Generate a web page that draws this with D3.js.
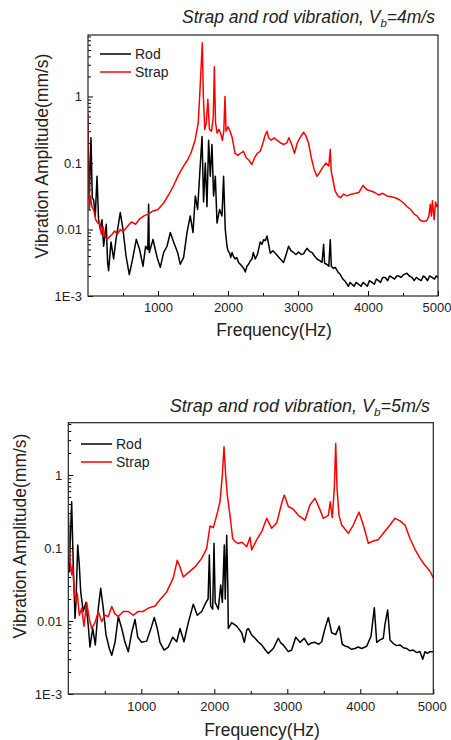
<!DOCTYPE html>
<html>
<head>
<meta charset="utf-8">
<script src="https://d3js.org/d3.v7.min.js"></script>
<style>
  body { margin: 0; background: #fff; }
  svg { display: block; font-family: "Liberation Sans", Arial, sans-serif; }
</style>
</head>
<body>
<div id="visual"></div>
<script>
// spectra: [frequency Hz, amplitude mm/s]
var rod4 = [[0,0.25],[19,0.03],[43,0.24],[61,0.03],[80,0.028],[104,0.016],[129,0.063],[151,0.014],[176,0.01],[200,0.014],[223,0.0056],[247,0.009],[261,0.012],[280,0.0032],[294,0.0024],[329,0.0065],[366,0.0036],[400,0.0071],[437,0.0125],[461,0.018],[500,0.01],[543,0.004],[590,0.0021],[637,0.0036],[690,0.0071],[737,0.005],[786,0.0028],[823,0.0056],[854,0.005],[866,0.024],[876,0.0045],[929,0.0071],[961,0.005],[994,0.0036],[1033,0.0027],[1080,0.0045],[1129,0.0056],[1176,0.009],[1223,0.0065],[1280,0.0045],[1319,0.003],[1366,0.0038],[1414,0.009],[1461,0.016],[1500,0.009],[1533,0.032],[1566,0.02],[1594,0.063],[1629,0.25],[1651,0.026],[1676,0.1],[1700,0.022],[1723,0.22],[1747,0.063],[1771,0.19],[1794,0.032],[1819,0.063],[1843,0.0125],[1880,0.02],[1914,0.016],[1937,0.063],[1961,0.01],[1986,0.0056],[2000,0.0048],[2023,0.0044],[2040,0.0038],[2057,0.0045],[2080,0.0039],[2104,0.0036],[2125,0.0038],[2151,0.0032],[2175,0.003],[2200,0.0028],[2225,0.0026],[2247,0.0023],[2270,0.0028],[2294,0.003],[2320,0.0034],[2343,0.0036],[2361,0.0045],[2390,0.0036],[2420,0.0042],[2461,0.0065],[2485,0.006],[2509,0.007],[2535,0.0068],[2557,0.008],[2580,0.006],[2604,0.0044],[2640,0.0048],[2676,0.0044],[2710,0.004],[2747,0.0036],[2770,0.0034],[2794,0.0032],[2830,0.0042],[2866,0.0056],[2900,0.0048],[2937,0.0045],[2970,0.0042],[3009,0.0046],[3045,0.0042],[3080,0.0043],[3105,0.0048],[3129,0.0052],[3165,0.0047],[3200,0.0045],[3235,0.004],[3271,0.0036],[3310,0.0034],[3343,0.0032],[3366,0.006],[3380,0.0031],[3410,0.003],[3440,0.0028],[3461,0.007],[3476,0.0028],[3505,0.0026],[3533,0.0027],[3570,0.0023],[3604,0.0021],[3640,0.0018],[3676,0.00165],[3720,0.0014],[3745,0.0016],[3771,0.0015],[3800,0.0014],[3830,0.0016],[3866,0.0015],[3900,0.0014],[3930,0.0016],[3961,0.0015],[3990,0.0014],[4020,0.0017],[4057,0.0016],[4090,0.0015],[4120,0.0018],[4151,0.0017],[4180,0.0016],[4210,0.0019],[4247,0.0019],[4280,0.0017],[4310,0.002],[4343,0.0019],[4380,0.0018],[4410,0.002],[4437,0.002],[4470,0.0019],[4510,0.0021],[4557,0.0022],[4590,0.002],[4629,0.0019],[4660,0.0017],[4690,0.0019],[4723,0.0018],[4760,0.0017],[4790,0.002],[4819,0.0019],[4850,0.0017],[4880,0.002],[4914,0.0019],[4950,0.0018],[4975,0.002],[5000,0.0019]];

var strap4 = [[0,0.55],[8,0.11],[20,0.02],[35,0.032],[55,0.022],[80,0.02],[110,0.014],[140,0.0125],[165,0.013],[190,0.0085],[215,0.011],[245,0.0078],[275,0.0072],[310,0.0078],[345,0.0085],[380,0.0095],[420,0.0085],[460,0.01],[500,0.0092],[560,0.011],[620,0.013],[680,0.012],[740,0.0145],[800,0.016],[860,0.017],[930,0.019],[1000,0.02],[1080,0.025],[1150,0.033],[1220,0.045],[1290,0.065],[1360,0.088],[1420,0.11],[1470,0.14],[1530,0.22],[1575,0.4],[1605,1.6],[1633,6.4],[1648,1.0],[1668,0.32],[1690,0.4],[1712,0.9],[1735,0.32],[1765,0.3],[1790,0.5],[1805,2.8],[1822,0.4],[1845,0.28],[1870,0.32],[1895,0.28],[1920,0.22],[1940,0.3],[1957,1.0],[1972,0.3],[2000,0.35],[2030,0.3],[2060,0.24],[2100,0.14],[2140,0.13],[2180,0.14],[2220,0.15],[2260,0.12],[2300,0.11],[2340,0.095],[2380,0.12],[2420,0.14],[2460,0.15],[2500,0.2],[2530,0.26],[2557,0.3],[2580,0.24],[2620,0.22],[2660,0.24],[2700,0.22],[2750,0.2],[2800,0.19],[2840,0.2],[2870,0.24],[2910,0.19],[2950,0.14],[2990,0.2],[3040,0.25],[3080,0.29],[3110,0.26],[3150,0.2],[3190,0.12],[3230,0.08],[3270,0.063],[3310,0.072],[3350,0.085],[3400,0.1],[3440,0.09],[3461,0.16],[3475,0.075],[3500,0.055],[3530,0.038],[3570,0.032],[3610,0.03],[3650,0.034],[3700,0.032],[3760,0.034],[3820,0.035],[3870,0.036],[3930,0.046],[3980,0.04],[4040,0.038],[4100,0.036],[4150,0.033],[4210,0.035],[4270,0.032],[4330,0.031],[4390,0.03],[4450,0.028],[4510,0.025],[4560,0.022],[4610,0.02],[4660,0.017],[4700,0.016],[4740,0.014],[4790,0.0132],[4840,0.0135],[4870,0.016],[4890,0.024],[4905,0.016],[4920,0.027],[4945,0.014],[4965,0.026],[4985,0.022],[5000,0.024]];

var rod5 = [[0,0.08],[12,0.047],[46,0.43],[68,0.058],[92,0.0108],[105,0.018],[129,0.11],[151,0.058],[170,0.025],[205,0.0135],[242,0.018],[274,0.0085],[297,0.0044],[334,0.0079],[370,0.0047],[411,0.015],[444,0.028],[479,0.015],[516,0.0065],[562,0.0042],[595,0.0034],[640,0.0051],[685,0.0115],[732,0.0079],[777,0.0051],[822,0.0038],[868,0.0069],[914,0.0105],[951,0.006],[1005,0.0051],[1074,0.0053],[1142,0.0085],[1178,0.0112],[1219,0.0079],[1256,0.0051],[1311,0.004],[1370,0.0044],[1430,0.006],[1485,0.0052],[1530,0.0079],[1585,0.0052],[1644,0.0095],[1712,0.017],[1767,0.012],[1827,0.0135],[1886,0.018],[1915,0.02],[1932,0.08],[1950,0.016],[1978,0.0145],[1996,0.116],[2012,0.018],[2055,0.0145],[2088,0.031],[2110,0.018],[2137,0.11],[2150,0.02],[2170,0.15],[2185,0.03],[2192,0.0079],[2238,0.0095],[2307,0.0085],[2375,0.0069],[2411,0.0051],[2444,0.0075],[2466,0.0079],[2510,0.0065],[2558,0.0058],[2600,0.0052],[2649,0.0047],[2700,0.004],[2740,0.0036],[2808,0.0042],[2877,0.0058],[2910,0.005],[2945,0.0047],[3014,0.0038],[3060,0.004],[3115,0.006],[3174,0.0051],[3233,0.0058],[3288,0.0047],[3330,0.005],[3379,0.0051],[3430,0.0048],[3471,0.0052],[3516,0.0079],[3562,0.0112],[3608,0.0069],[3663,0.0065],[3712,0.0085],[3753,0.0048],[3800,0.0045],[3836,0.0044],[3880,0.0041],[3927,0.0042],[3970,0.0044],[4019,0.0042],[4088,0.0045],[4147,0.0062],[4192,0.0152],[4225,0.0051],[4270,0.0055],[4315,0.0058],[4338,0.009],[4375,0.0142],[4407,0.0055],[4452,0.0049],[4500,0.0046],[4544,0.0047],[4590,0.0043],[4636,0.0042],[4680,0.0039],[4726,0.004],[4770,0.0037],[4818,0.0038],[4855,0.003],[4886,0.0038],[4920,0.0036],[4955,0.0038],[5000,0.0038]];

var strap5 = [[0,0.31],[12,0.15],[23,0.065],[47,0.043],[60,0.058],[78,0.028],[105,0.018],[123,0.024],[151,0.012],[184,0.015],[215,0.0085],[252,0.018],[288,0.0105],[321,0.0079],[366,0.0095],[411,0.0135],[458,0.0098],[503,0.012],[548,0.0115],[595,0.0158],[640,0.0125],[685,0.0115],[753,0.0135],[822,0.0135],[890,0.012],[959,0.0135],[1027,0.0135],[1096,0.015],[1188,0.016],[1256,0.0195],[1348,0.025],[1438,0.039],[1493,0.068],[1530,0.055],[1575,0.04],[1644,0.046],[1736,0.055],[1827,0.072],[1896,0.099],[1941,0.2],[1986,0.19],[2033,0.28],[2078,0.43],[2110,1.0],[2133,2.44],[2156,1.0],[2178,0.53],[2215,0.28],[2252,0.135],[2284,0.122],[2330,0.115],[2375,0.12],[2421,0.11],[2444,0.104],[2489,0.14],[2512,0.094],[2581,0.13],[2649,0.167],[2718,0.255],[2786,0.186],[2855,0.22],[2923,0.41],[2959,0.53],[3014,0.37],[3082,0.34],[3151,0.28],[3242,0.24],[3311,0.39],[3379,0.48],[3434,0.36],[3493,0.255],[3562,0.28],[3589,0.43],[3616,0.26],[3644,0.66],[3663,2.7],[3681,0.66],[3708,0.28],[3745,0.206],[3836,0.159],[3904,0.206],[3982,0.31],[4041,0.206],[4110,0.116],[4178,0.125],[4247,0.13],[4315,0.159],[4407,0.206],[4475,0.255],[4544,0.235],[4612,0.206],[4681,0.135],[4749,0.096],[4818,0.072],[4886,0.058],[4955,0.048],[5000,0.039]];

var freqTicks = [1000, 2000, 3000, 4000, 5000];
var freqMinor = [500, 1500, 2500, 3500, 4500];
var ampTicks = [0.001, 0.01, 0.1, 1];
var ampLabels = ["1E-3", "0.01", "0.1", "1"];
var seriesNames = ["Rod", "Strap"];
var seriesColors = ["#000000", "#ff0000"];

var svg = d3.select("#visual")
  .append("svg")
    .attr("width", 451)
    .attr("height", 740);

function drawPanel(p) {
  var g = svg.append("g")
    .attr("transform", "translate(" + p.left + "," + p.top + ")");

  var x = d3.scaleLinear().domain([0, 5000]).range([0, p.width]);
  var y = d3.scaleLog().domain([0.001, p.ymax]).range([p.height, 0]);

  // minor decade ticks 2..9
  var minors = [];
  [0.001, 0.01, 0.1, 1].forEach(function(d) {
    for (var k = 2; k <= 9; k++) if (d * k <= p.ymax) minors.push(d * k);
  });

  g.append("g")
    .call(d3.axisLeft(y).tickValues(minors).tickSize(-3).tickSizeOuter(0).tickFormat(""))
    .call(function(a) { a.select(".domain").remove(); });

  g.append("g")
    .call(d3.axisLeft(y).tickValues(ampTicks).tickSize(-5).tickSizeOuter(0).tickPadding(6)
      .tickFormat(function(d, i) { return ampLabels[i]; }))
    .call(function(a) {
      a.select(".domain").remove();
      a.selectAll("text").attr("font-size", 13).attr("fill", "#222").attr("font-family", null);
    });

  g.append("g")
    .attr("transform", "translate(0," + p.height + ")")
    .call(d3.axisBottom(x).tickValues(freqMinor).tickSize(-3).tickSizeOuter(0).tickFormat(""))
    .call(function(a) { a.select(".domain").remove(); });

  g.append("g")
    .attr("transform", "translate(0," + p.height + ")")
    .call(d3.axisBottom(x).tickValues(freqTicks).tickSize(-5).tickSizeOuter(0).tickPadding(p.xpad)
      .tickFormat(d3.format("d")))
    .call(function(a) {
      a.select(".domain").remove();
      a.selectAll("text").attr("font-size", 13).attr("fill", "#222").attr("font-family", null);
      // last label sits at the page edge, pull it in a touch
      a.selectAll("text").filter(function(d) { return d === 5000; }).attr("dx", -1.5);
    });

  // clip so nothing runs outside the box
  g.append("clipPath").attr("id", "clip" + p.id)
    .append("rect").attr("width", p.width).attr("height", p.height);

  var line = d3.line()
    .x(function(d) { return x(d[0]); })
    .y(function(d) { return y(d[1]); });

  var plot = g.append("g").attr("clip-path", "url(#clip" + p.id + ")");
  [p.rod, p.strap].forEach(function(s, i) {
    plot.append("path")
      .datum(s)
      .attr("fill", "none")
      .attr("stroke", seriesColors[i])
      .attr("stroke-width", 1.5)
      .attr("stroke-linejoin", "round")
      .attr("d", line);
  });

  // frame
  g.append("rect")
    .attr("width", p.width)
    .attr("height", p.height)
    .attr("fill", "none")
    .attr("stroke", "#222")
    .attr("stroke-width", 1.2);

  // legend
  seriesNames.forEach(function(name, i) {
    var ly = p.legY + i * 18;
    g.append("line")
      .attr("x1", p.legX).attr("x2", p.legX + 31)
      .attr("y1", ly).attr("y2", ly)
      .attr("stroke", seriesColors[i]).attr("stroke-width", 1.5);
    g.append("text")
      .attr("x", p.legX + 35).attr("y", ly + 5)
      .attr("font-size", 14).attr("fill", "#222")
      .text(name);
  });

  // axis titles
  svg.append("text")
    .attr("x", p.xTitleX).attr("y", p.xTitleY)
    .attr("text-anchor", "middle")
    .attr("font-size", p.titleSize).attr("fill", "#222")
    .text("Frequency(Hz)");

  svg.append("text")
    .attr("transform", "translate(" + p.yTitleX + "," + p.yTitleY + ") rotate(-90)")
    .attr("text-anchor", "middle")
    .attr("dominant-baseline", "central")
    .attr("font-size", p.titleSize).attr("fill", "#222")
    .text("Vibration Amplitude(mm/s)");

  // panel title with subscript
  var t = svg.append("text")
    .attr("x", p.headX).attr("y", p.headY)
    .attr("text-anchor", "end")
    .attr("font-style", "italic")
    .attr("font-size", p.headSize).attr("fill", "#222");
  t.append("tspan").text("Strap and rod vibration, V");
  t.append("tspan").attr("dy", 4).attr("font-size", p.headSize * 0.65).text("b");
  t.append("tspan").attr("dy", -4).text("=" + p.speed);
}

drawPanel({
  id: 1, left: 88, top: 35, width: 350, height: 261, ymax: 8.4,
  rod: rod4, strap: strap4, speed: "4m/s", xpad: 7,
  legX: 12, legY: 19,
  xTitleX: 274, xTitleY: 336, yTitleX: 42, yTitleY: 156, titleSize: 17.5,
  headX: 435, headY: 23, headSize: 17.5
});

drawPanel({
  id: 2, left: 68.3, top: 422.7, width: 365, height: 271.3, ymax: 5.2,
  rod: rod5, strap: strap5, speed: "5m/s", xpad: 8,
  legX: 12.7, legY: 21.3,
  xTitleX: 262, xTitleY: 736, yTitleX: 20, yTitleY: 536, titleSize: 17.5,
  headX: 430, headY: 412, headSize: 18
});
</script>
</body>
</html>
